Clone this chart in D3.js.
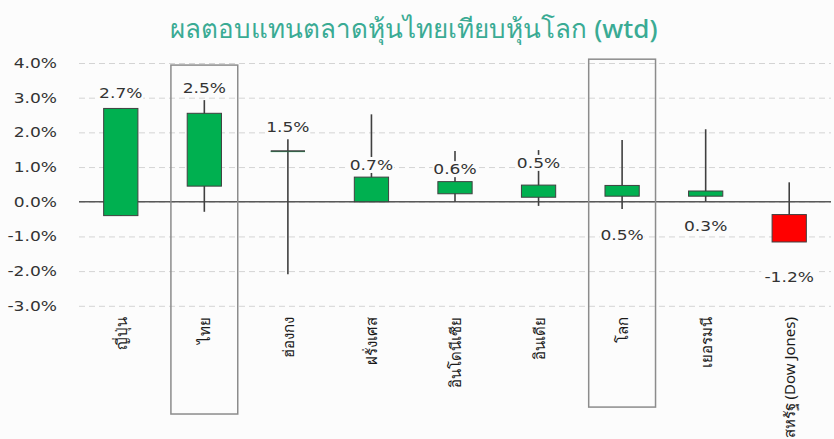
<!DOCTYPE html>
<html>
<head>
<meta charset="UTF-8">
<title>ผลตอบแทนตลาดหุ้นไทยเทียบหุ้นโลก (wtd)</title>
<script src="https://d3js.org/d3.v7.min.js"></script>
<style>
  body { margin: 0; background: #fcfcfc; }
  svg { display: block; }
</style>
</head>
<body>
<div class="canvas"></div>
<script>
// data (weekly % returns)
const markets = ["ญี่ปุ่น", "ไทย", "ฮ่องกง", "ฝรั่งเศส", "อินโดนีเซีย", "อินเดีย", "โลก", "เยอรมนี", "สหรัฐ (Dow Jones)"];
const openVals  = [-0.40, 0.45, 1.46, 0.00, 0.23, 0.13, 0.16, 0.16, -0.37];
const closeVals = [ 2.69, 2.55, 1.46, 0.71, 0.58, 0.48, 0.47, 0.31, -1.16];
const highVals  = [ 2.70, 2.93, 1.80, 2.52, 1.46, 1.49, 1.78, 2.09,  0.56];
const lowVals   = [-0.40, -0.29, -2.09, 0.00, 0.00, -0.12, -0.21, 0.00, -1.16];
const valueLabels = ["2.7%", "2.5%", "1.5%", "0.7%", "0.6%", "0.5%", "0.5%", "0.3%", "-1.2%"];
// where each value label sits, in % units
const labelAt = [3.14, 3.28, 2.15, 1.06, 0.94, 1.12, -0.95, -0.70, -2.18];
const yTicks = [4, 3, 2, 1, 0, -1, -2, -3];
// highlighted markets, box top / bottom in % units
const highlightNames = ["ไทย", "โลก"];
const highlightTop = [3.94, 4.11];
const highlightBottom = [-6.12, -5.92];

const width = 834, height = 439;
const margin = { left: 79, right: 3 };

const svg = d3.select(".canvas").append("svg")
  .attr("width", width).attr("height", height);

svg.append("rect").attr("width", width).attr("height", height).attr("fill", "#fcfcfc");

const x = d3.scaleBand()
  .domain(markets)
  .range([margin.left, width - margin.right])
  .paddingInner(0).paddingOuter(0);

const y = d3.scaleLinear()
  .domain([-3, 4])
  .range([305.8, 63]);

const bodyW = x.step() * 0.41;
const cx = d => x(d) + x.bandwidth() / 2;
const numFont = "'DejaVu Sans', Verdana, sans-serif";
const stretch = 1.22;

// title
svg.append("text")
  .attr("x", 414).attr("y", 38)
  .attr("text-anchor", "middle")
  .attr("font-family", "'Noto Sans', sans-serif")
  .attr("font-size", 26)
  .attr("font-weight", 500)
  .attr("fill", "#3aab94")
  .text("ผลตอบแทนตลาดหุ้นไทยเทียบหุ้นโลก (wtd)");

// gridlines
const yAxis = d3.axisLeft(y)
  .tickValues(yTicks)
  .tickSize(-(width - margin.right - margin.left))
  .tickFormat("");
const grid = svg.append("g")
  .attr("transform", `translate(${margin.left},0)`)
  .call(yAxis);
grid.select(".domain").remove();
grid.selectAll(".tick line")
  .attr("stroke", "#d4d4d4")
  .attr("stroke-width", 1)
  .attr("stroke-dasharray", "6,4");

// tick labels
svg.append("g").selectAll("text")
  .data(yTicks)
  .join("text")
  .attr("transform", d => `translate(57,${y(d) + 5}) scale(${stretch},1)`)
  .attr("text-anchor", "end")
  .attr("font-family", numFont)
  .attr("font-size", 14)
  .attr("fill", "#333")
  .text(d => d.toFixed(1) + "%");

// zero line
svg.append("line")
  .attr("x1", margin.left).attr("x2", width - margin.right)
  .attr("y1", y(0)).attr("y2", y(0))
  .attr("stroke", "#595959").attr("stroke-width", 1.5);

// highlight boxes
svg.append("g").selectAll("rect")
  .data(highlightNames)
  .join("rect")
  .attr("x", d => cx(d) - x.step() * 0.4)
  .attr("width", x.step() * 0.8)
  .attr("y", (d, i) => y(highlightTop[i]))
  .attr("height", (d, i) => y(highlightBottom[i]) - y(highlightTop[i]))
  .attr("fill", "none")
  .attr("stroke", "#8c8c8c")
  .attr("stroke-width", 1.5);

// wicks
const candles = svg.append("g");
candles.selectAll("line.wick")
  .data(markets)
  .join("line")
  .attr("class", "wick")
  .attr("x1", d => cx(d)).attr("x2", d => cx(d))
  .attr("y1", (d, i) => y(highVals[i]))
  .attr("y2", (d, i) => y(lowVals[i]))
  .attr("stroke", "#404040")
  .attr("stroke-width", 1.6);

// bodies
candles.selectAll("rect.body")
  .data(markets)
  .join("rect")
  .attr("class", "body")
  .attr("x", d => cx(d) - bodyW / 2)
  .attr("width", bodyW)
  .attr("y", (d, i) => y(Math.max(openVals[i], closeVals[i])))
  .attr("height", (d, i) => Math.max(1, Math.abs(y(openVals[i]) - y(closeVals[i]))))
  .attr("fill", (d, i) => closeVals[i] >= openVals[i] ? "#00b050" : "#ff0000")
  .attr("stroke", (d, i) => openVals[i] === closeVals[i] ? "none" : "#404040")
  .attr("stroke-width", 1);

// doji tick
candles.selectAll("line.doji")
  .data(markets.filter((d, i) => openVals[i] === closeVals[i]))
  .join("line")
  .attr("class", "doji")
  .attr("x1", d => cx(d) - bodyW / 2).attr("x2", d => cx(d) + bodyW / 2)
  .attr("y1", d => y(closeVals[markets.indexOf(d)]))
  .attr("y2", d => y(closeVals[markets.indexOf(d)]))
  .attr("stroke", "#404040").attr("stroke-width", 1.5);

// value labels with light backing
const lab = svg.append("g").selectAll("g")
  .data(markets)
  .join("g")
  .attr("transform", (d, i) => `translate(${cx(d)},${y(labelAt[i])})`);
lab.append("rect")
  .attr("x", (d, i) => -valueLabels[i].length * 5.6)
  .attr("width", (d, i) => valueLabels[i].length * 11.2)
  .attr("y", -8).attr("height", 16)
  .attr("fill", "#fcfcfc");
lab.append("text")
  .attr("transform", `translate(0,5) scale(${stretch},1)`)
  .attr("text-anchor", "middle")
  .attr("font-family", numFont)
  .attr("font-size", 14)
  .attr("fill", "#333")
  .text((d, i) => valueLabels[i]);

// category labels, vertical
svg.append("g").selectAll("text")
  .data(markets)
  .join("text")
  .attr("transform", d => `translate(${cx(d) + 6},317) rotate(-90)`)
  .attr("text-anchor", "end")
  .attr("font-family", "'Noto Sans', 'DejaVu Sans', sans-serif")
  .attr("font-size", 15)
  .attr("fill", "#1a1a1a")
  .text(d => d);
</script>
</body>
</html>
